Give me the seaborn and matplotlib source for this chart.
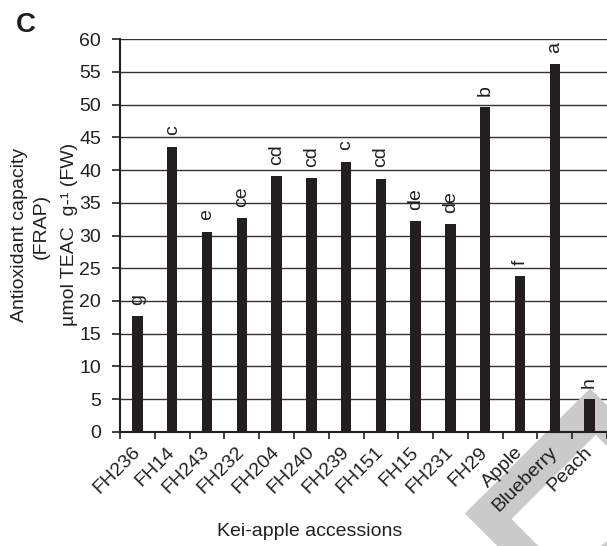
import numpy as np
import matplotlib
matplotlib.use("Agg")
import matplotlib.pyplot as plt
import seaborn as sns

# Antioxidant capacity (FRAP) of Kei-apple accessions and reference fruits
accessions = ["FH236", "FH14", "FH243", "FH232", "FH204", "FH240", "FH239",
              "FH151", "FH15", "FH231", "FH29", "Apple", "Blueberry", "Peach"]
frap = [17.7, 43.6, 30.6, 32.7, 39.1, 38.8, 41.3,
        38.7, 32.2, 31.7, 49.7, 23.8, 56.2, 5.0]
letters = ["g", "c", "e", "ce", "cd", "cd", "c",
           "cd", "de", "de", "b", "f", "a", "h"]
y_ticks = list(range(0, 61, 5))

sns.set_theme(style="white")
plt.rcParams["font.family"] = ["Liberation Sans", "DejaVu Sans"]

INK = "#231f20"
FS = 14

fig = plt.figure(figsize=(6.07, 5.46), dpi=100)
ax = fig.add_axes([120 / 607, 1 - 431.7 / 546, 487 / 607, 392.4 / 546])

sns.barplot(x=accessions, y=frap, color=INK, saturation=1, width=0.3,
            edgecolor="none", ax=ax, zorder=1)

ax.set_ylim(0, 60)
ax.set_xlim(-0.5, len(accessions) - 0.5)
ax.set_yticks(y_ticks)
ax.set_yticklabels([str(t) for t in y_ticks], fontsize=FS, color=INK)

# horizontal reference lines behind the bars
ax.grid(False)
for t in y_ticks[1:]:
    ax.axhline(t, color="#333333", linewidth=1.0, zorder=0.5)

# category labels at bar centres, tick marks at category boundaries
ax.set_xticks(np.arange(len(accessions)))
ax.set_xticklabels(accessions, rotation=45, ha="right", va="center",
                   rotation_mode="anchor", fontsize=FS, color=INK)
ax.set_xticks(np.arange(-0.5, len(accessions), 1), minor=True)
ax.tick_params(axis="x", which="major", length=0, pad=13)
ax.tick_params(axis="x", which="minor", length=5, width=1.2, color=INK,
               direction="out", bottom=True)
ax.tick_params(axis="y", length=5.5, width=1.2, color=INK, direction="out",
               left=True, pad=8)
ax.xaxis.set_zorder(2.5)
ax.yaxis.set_zorder(2.5)

for side in ("top", "right"):
    ax.spines[side].set_visible(False)
for side in ("left", "bottom"):
    ax.spines[side].set_color(INK)
    ax.spines[side].set_linewidth(1.5)

# significance letters above bars
for i, (v, s) in enumerate(zip(frap, letters)):
    ax.annotate(s, (i, v), xytext=(0, 8), textcoords="offset points",
                rotation=90, ha="center", va="bottom", fontsize=FS, color=INK,
                zorder=3)

ax.set_xlabel("Kei-apple accessions", fontsize=FS, color=INK)
ax.xaxis.label.set_va("center")
ax.xaxis.set_label_coords((309.5 - 120) / 487, (14 - 114.3) / 392.4)
ax.set_ylabel("")

# three-line y axis title
fig.text(20 / 607, 1 - 235 / 546, "Antioxidant capacity", rotation=90,
         ha="center", va="center", fontsize=FS, color=INK)
fig.text(41 / 607, 1 - 226 / 546, "(FRAP)", rotation=90,
         ha="center", va="center", fontsize=FS, color=INK)
fig.text(69 / 607, 1 - 234 / 546, "µmol TEAC  g-¹ (FW)", rotation=90,
         ha="center", va="center", fontsize=FS, color=INK)

# panel letter
fig.text(25.5 / 607, 1 - 25.5 / 546, "C", fontsize=20, fontweight="bold",
         ha="center", va="center", color=INK)

# faint watermark letter in the lower right corner (behind bars and labels)
ax.text(559 / 607, 1 - 532 / 546, "D", transform=fig.transFigure,
        fontsize=185, fontweight="bold", rotation=-45, color="#cacaca",
        ha="center", va="center", zorder=0.8, clip_on=False)

fig.savefig("out.png", dpi=100)
